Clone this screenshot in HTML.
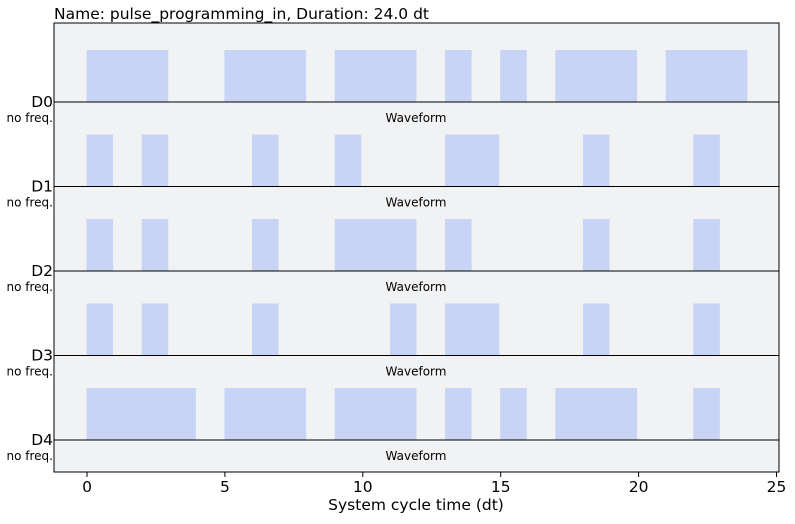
<!DOCTYPE html>
<html><head><meta charset="utf-8"><style>
body{margin:0;background:#fff;width:795px;height:520px;overflow:hidden;font-family:"DejaVu Sans","Liberation Sans",sans-serif}
</style></head><body>
<svg id="chart" width="795" height="520" xmlns="http://www.w3.org/2000/svg">
<text x="54" y="19" font-size="15.5" fill="#000">Name: pulse_programming_in, Duration: 24.0 dt</text>
<rect x="54" y="23" width="725" height="449" fill="#f1f2f4"/>
<g id="marks"></g>
<rect x="54" y="23" width="725" height="449" fill="none" stroke="#000" stroke-width="1"/>
<g id="axis"></g>
<text x="416" y="510" font-size="15.5" text-anchor="middle">System cycle time (dt)</text>
</svg>
<script>
const channels = ["D0","D1","D2","D3","D4"];
const starts = [
  [0,5,9,13,15,17,21],
  [0,2,6,9,13,18,22],
  [0,2,6,9,13,18,22],
  [0,2,6,11,13,18,22],
  [0,5,9,13,15,17,22]
];
const durations = [
  [3,3,3,1,1,3,3],
  [1,1,1,1,2,1,1],
  [1,1,1,3,1,1,1],
  [1,1,1,1,2,1,1],
  [4,3,3,1,1,3,1]
];
const xTicks = [0,5,10,15,20,25];
const NS="http://www.w3.org/2000/svg";
const x = t => 87 + t*27.58;
const baseY = i => 102 + i*84.5;
const marks=document.getElementById('marks');
const axis=document.getElementById('axis');
function mk(tag,attrs,parent){const e=document.createElementNS(NS,tag);for(const k in attrs)e.setAttribute(k,attrs[k]);parent.appendChild(e);return e;}
channels.forEach((ch,i)=>{
  const by=baseY(i);
  starts[i].forEach((s,j)=>{
    const r=mk('rect',{x:x(s)-0.5,y:by-52,width:durations[i][j]*27.58-1,height:52,fill:'#c8d4f5'},marks);
    
    
  });
  const l=mk('line',{x1:54,x2:779,y1:by,y2:by,stroke:'#000','stroke-width':1},marks);
  
  
  const t=mk('text',{x:53,y:by+5,'font-size':15.5,'text-anchor':'end'},marks);t.textContent=ch;
  
  
  const f=mk('text',{x:53,y:by+20,'font-size':12,'text-anchor':'end'},marks);f.textContent='no freq.';
  
  
  const w=mk('text',{x:416,y:by+20,'font-size':12,'text-anchor':'middle'},marks);w.textContent='Waveform';
  
  
});
xTicks.forEach(v=>{
  const tk=mk('line',{x1:x(v),x2:x(v),y1:472,y2:477,stroke:'#000'},axis);
  
  
  const tl=mk('text',{x:x(v),y:492,'font-size':15.5,'text-anchor':'middle'},axis);tl.textContent=v;
  
  
});
</script>
</body></html>
